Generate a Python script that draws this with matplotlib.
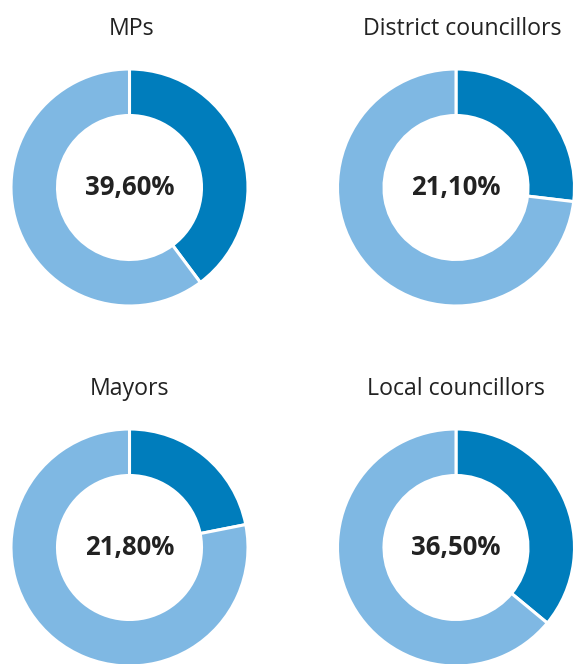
import matplotlib.pyplot as plt

# share of women in each group: printed label and the arc as drawn in the source
groups = ["MPs", "District councillors", "Mayors", "Local councillors"]
labels = ["39,60%", "21,10%", "21,80%", "36,50%"]
arc_share = [39.8, 26.9, 21.9, 36.0]

dark = "#007DBC"
light = "#7FB8E3"

plt.rcParams['font.family'] = ['Open Sans', 'DejaVu Sans']

W, H = 576, 664
fig = plt.figure(figsize=(W / 100, H / 100), dpi=100)
ax = fig.add_axes([0, 0, 1, 1])

# centre of each donut and title x, in pixels from the top left
centres = [(129.5, 187.5), (456, 187.5), (129.5, 547.5), (456, 547.5)]
title_x = [132, 462.5, 130, 456]
R, hole = 118.5, 72

for i in range(4):
    cx, cy = centres[i]
    v = arc_share[i]
    ax.pie([v, 100 - v], colors=[dark, light], startangle=90, counterclock=False,
           center=(cx, H - cy), radius=R,
           wedgeprops=dict(width=R - hole, edgecolor="white", linewidth=2.2))
    ax.text(cx, H - (cy + 7.5), labels[i], ha="center", va="baseline",
            fontsize=18.5, fontweight="bold", color="#222222")
    ax.text(title_x[i], H - (cy - 152.5), groups[i], ha="center", va="baseline",
            fontsize=16.7, color="#222222")

ax.set_xlim(0, W)
ax.set_ylim(0, H)
ax.set_aspect("equal")
ax.axis("off")

fig.savefig("out.png", dpi=100)
